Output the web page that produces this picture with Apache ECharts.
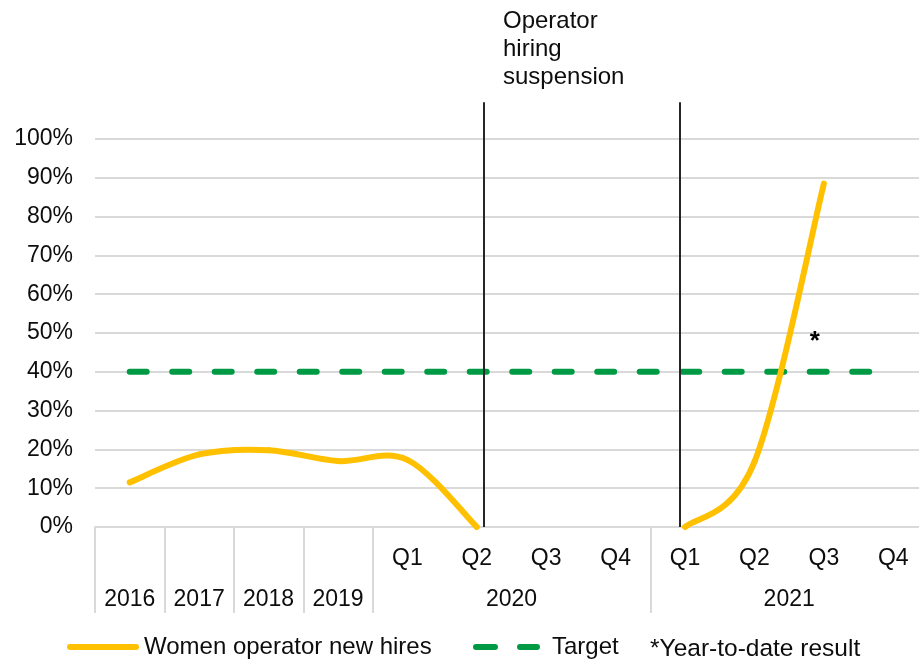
<!DOCTYPE html>
<html>
<head>
<meta charset="utf-8">
<script src="https://cdn.jsdelivr.net/npm/echarts@6/dist/echarts.min.js"></script>
<style>
  html, body { margin: 0; padding: 0; background: #fff; }
  #chart { width: 919px; height: 666px; }
</style>
</head>
<body>
<div id="chart"></div>
<script>
// ---- data ----
const categories = ['2016', '2017', '2018', '2019', 'Q1 2020', 'Q2 2020', 'Q3 2020', 'Q4 2020', 'Q1 2021', 'Q2 2021', 'Q3 2021', 'Q4 2021'];
const quarterLabels = ['', '', '', '', 'Q1', 'Q2', 'Q3', 'Q4', 'Q1', 'Q2', 'Q3', 'Q4'];
const groupLabels = ['2016', '2017', '2018', '2019', '2020', '2021'];
const groupSpans = [1, 1, 1, 1, 4, 4];
const womenHires = [11.5, 18.7, 19.8, 17.0, 17.3, 0, null, null, 0, 16.8, 88.5, null];
const target = [40, 40, 40, 40, 40, 40, 40, 40, 40, 40, 40, 40];
const yMin = 0, yMax = 100, yStep = 10;
const suspensionMarks = [5.6, 8.43];   // in category units from the left edge
const annotationText = ['Operator', 'hiring', 'suspension'];
const footnote = '*Year-to-date result';

// ---- build group axis (half-category resolution) ----
const groupAxis = new Array(categories.length * 2 + 1).fill('');
const groupTickIdx = new Set();
let start = 0;
groupLabels.forEach((g, k) => {
  groupTickIdx.add(start * 2);
  groupAxis[start * 2 + groupSpans[k]] = g;
  start += groupSpans[k];
});
groupTickIdx.add(start * 2);

const FONT = 'Liberation Sans, Arial, Helvetica, sans-serif';
const TXT = '#0d0d0d';
const GRID = '#d9d9d9';
const YELLOW = '#FFC000';
const GREEN = '#009A44';

const chart = echarts.init(document.getElementById('chart'), null, { renderer: 'canvas' });

const legendText = { fontSize: 24, color: TXT, fontFamily: FONT };

const has = (i) => i >= 0 && i < womenHires.length && womenHires[i] !== null && womenHires[i] !== undefined;

// Excel-like smoothed segment (Catmull-Rom -> cubic Bezier) from point i to i+1
function renderSegment(params, api) {
  const i = params.dataIndex;
  if (!has(i) || !has(i + 1)) return null;
  const p1 = api.coord([i, womenHires[i]]);
  const p2 = api.coord([i + 1, womenHires[i + 1]]);
  const p0 = has(i - 1) ? api.coord([i - 1, womenHires[i - 1]]) : p1;
  const p3 = has(i + 2) ? api.coord([i + 2, womenHires[i + 2]]) : p2;
  const c1 = [p1[0] + (p2[0] - p0[0]) / 6, p1[1] + (p2[1] - p0[1]) / 6];
  const c2 = [p2[0] - (p3[0] - p1[0]) / 6, p2[1] - (p3[1] - p1[1]) / 6];
  return {
    type: 'path',
    shape: {
      pathData: `M${p1[0]},${p1[1]} C${c1[0]},${c1[1]} ${c2[0]},${c2[1]} ${p2[0]},${p2[1]}`
    },
    style: { fill: 'none', stroke: YELLOW, lineWidth: 6, lineCap: 'round', lineJoin: 'round' }
  };
}

const option = {
  animation: false,
  textStyle: { fontFamily: FONT },
  grid: { left: 95, right: -9, top: 139, bottom: 139, outerBoundsMode: 'none', containLabel: false },
  legend: [
    {
      left: 67, top: 635, padding: 0,
      itemWidth: 72, itemHeight: 6,
      textStyle: legendText,
      itemStyle: { color: YELLOW },
      data: [{ name: 'Women operator new hires', icon: 'path://M3,0H69A3,3 0 0 1 69,6H3A3,3 0 0 1 3,0Z' }]
    },
    {
      left: 473, top: 635, padding: 0,
      itemWidth: 67, itemHeight: 6,
      textStyle: Object.assign({}, legendText, { padding: [0, 0, 0, 7] }),
      itemStyle: { color: GREEN },
      data: [{ name: 'Target', icon: 'path://M3,0H22A3,3 0 0 1 22,6H3A3,3 0 0 1 3,0Z M47,0H64A3,3 0 0 1 64,6H47A3,3 0 0 1 47,0Z' }]
    }
  ],
  xAxis: [
    {
      type: 'category',
      data: categories,
      boundaryGap: true,
      axisLine: { lineStyle: { color: GRID, width: 2 } },
      axisTick: { show: false },
      splitLine: { show: false },
      axisLabel: {
        interval: 0, margin: 20, fontSize: 23, color: TXT, fontFamily: FONT,
        formatter: (v, i) => quarterLabels[i]
      }
    },
    {
      type: 'category',
      data: groupAxis,
      boundaryGap: false,
      position: 'bottom',
      axisLine: { show: false },
      axisTick: {
        show: true, length: 86,
        interval: (i) => groupTickIdx.has(i),
        lineStyle: { color: GRID, width: 2 }
      },
      axisLabel: { interval: 0, margin: 61, fontSize: 23, color: TXT, fontFamily: FONT },
      splitLine: { show: false }
    },
    { type: 'value', min: 0, max: categories.length, show: false }
  ],
  yAxis: {
    type: 'value',
    min: yMin, max: yMax, interval: yStep,
    axisLine: { show: false },
    axisTick: { show: false },
    splitLine: { lineStyle: { color: GRID, width: 2 } },
    axisLabel: { formatter: '{value}%', fontSize: 23, color: TXT, margin: 22, fontFamily: FONT }
  },
  series: [
    {
      name: 'Target',
      type: 'line',
      xAxisIndex: 0,
      data: target,
      symbol: 'none',
      color: GREEN,
      lineStyle: { color: GREEN, width: 6, type: [17, 25.5], cap: 'round' },
      z: 3,
      markPoint: {
        symbol: 'circle', symbolSize: 0,
        label: { show: true, formatter: '*', fontSize: 26, fontWeight: 'bold', color: '#000', offset: [-9, -30] },
        data: [{ coord: [categories[10], target[10]] }]
      }
    },
    {
      name: 'Women operator new hires',
      type: 'custom',
      coordinateSystem: 'cartesian2d',
      xAxisIndex: 0,
      yAxisIndex: 0,
      color: YELLOW,
      itemStyle: { color: YELLOW },
      data: womenHires.map((v, i) => [i, v === null ? 0 : v]),
      encode: { x: 0, y: 1 },
      renderItem: renderSegment,
      z: 4
    }
  ]
};

chart.setOption(option);

// suspension lines and annotation
const y0 = chart.convertToPixel({ yAxisIndex: 0 }, 0);
const yTop = chart.convertToPixel({ yAxisIndex: 0 }, 109.5);
const graphics = suspensionMarks.map(m => {
  const x = Math.round(chart.convertToPixel({ xAxisIndex: 2 }, m));
  return {
    type: 'line', z: 10,
    shape: { x1: x, y1: yTop, x2: x, y2: y0 },
    style: { stroke: '#262626', lineWidth: 2 }
  };
});
graphics.push({
  type: 'text', left: 503, top: 7, z: 10,
  style: { text: annotationText.join('\n'), fontSize: 24, lineHeight: 28, fill: TXT, fontFamily: FONT }
});
graphics.push({
  type: 'text', left: 650, top: 637, z: 10,
  style: { text: footnote, fontSize: 24.5, fill: TXT, fontFamily: FONT }
});
chart.setOption({ graphic: graphics });
</script>
</body>
</html>
